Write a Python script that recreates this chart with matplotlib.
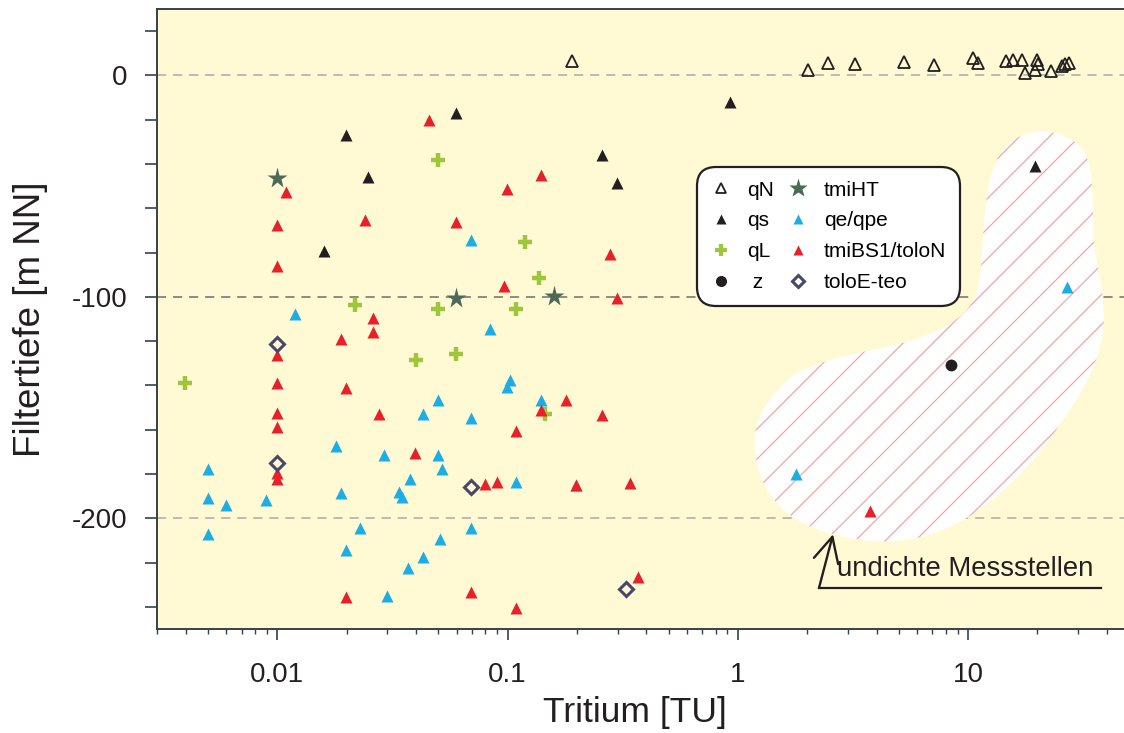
import numpy as np
import matplotlib
matplotlib.use("Agg")
import matplotlib.pyplot as plt
from matplotlib.path import Path
from matplotlib.patches import PathPatch
from matplotlib.collections import LineCollection
from matplotlib.lines import Line2D
from matplotlib.ticker import FixedLocator, FuncFormatter, LogLocator, NullFormatter

plt.rcParams['font.family'] = ['Liberation Sans', 'DejaVu Sans']

# --- data (Tritium [TU], Filtertiefe [m NN]) ---
qN_x = [0.19, 2.02, 2.46, 3.23, 5.28, 7.11, 10.5, 11.0, 14.6, 15.7, 17.1, 20.0,
        20.2, 17.7, 19.5, 22.8, 25.5, 26.4, 27.3]
qN_y = [6.3, 2.6, 5.7, 5.0, 6.0, 4.5, 8.0, 5.6, 6.4, 7.1, 7.1, 6.8,
        5.3, 1.0, 2.3, 1.9, 4.1, 5.0, 5.6]

qs_x = [0.0595, 0.0199, 0.257, 0.299, 0.0248, 0.0159, 0.927, 19.5]
qs_y = [-16.8, -26.7, -35.9, -48.5, -45.8, -79.3, -12.0, -40.8]

qL_x = [0.0498, 0.119, 0.137, 0.0218, 0.0498, 0.109, 0.0398, 0.0595, 0.00398, 0.145]
qL_y = [-38.3, -75.1, -91.7, -103.9, -105.5, -105.5, -128.4, -125.7, -138.9, -152.8]

z_x = [8.45]
z_y = [-130.6]

tmiHT_x = [0.01, 0.0595, 0.159]
tmiHT_y = [-46.2, -100.3, -99.4]

qe_x = [0.0695, 0.0119, 0.0836, 0.102, 0.0993, 0.139, 0.0498, 0.0428, 0.0695,
        0.018, 0.0289, 0.0496, 0.0518, 0.00498, 0.0377, 0.0336, 0.0347, 0.0188,
        0.005, 0.00598, 0.00893, 0.109, 0.199, 0.005, 0.0229, 0.0695, 0.0199,
        0.0506, 0.0428, 0.0369, 0.0299, 1.79, 26.9]
qe_y = [-74.3, -107.7, -114.4, -137.4, -140.7, -146.4, -146.8, -152.7, -154.6,
        -167.4, -171.5, -171.3, -177.9, -177.9, -182.1, -188.0, -190.4, -188.4,
        -190.7, -194.0, -191.9, -183.5, -185.1, -207.2, -204.6, -204.6, -214.3,
        -209.2, -217.4, -222.5, -235.3, -180.2, -95.6]

tmiBS1_x = [0.0457, 0.0109, 0.0993, 0.139, 0.01, 0.0239, 0.0595, 0.279, 0.01,
            0.0964, 0.299, 0.0259, 0.0259, 0.0188, 0.01, 0.01, 0.0199, 0.139,
            0.179, 0.257, 0.01, 0.0277, 0.01, 0.109, 0.0397, 0.01, 0.01, 0.08,
            0.0896, 0.199, 0.339, 0.0199, 0.0695, 0.109, 0.369, 3.75]
tmiBS1_y = [-20.3, -52.5, -51.4, -44.9, -67.7, -65.5, -66.2, -80.6, -86.2,
            -94.9, -100.3, -109.6, -115.9, -119.0, -126.1, -138.9, -141.1, -150.9,
            -146.4, -153.2, -152.4, -152.7, -158.7, -160.7, -170.7, -179.4, -182.4, -184.4,
            -183.5, -185.1, -183.9, -235.7, -233.5, -240.5, -226.4, -196.7]

toloE_x = [0.01, 0.01, 0.0695, 0.328]
toloE_y = [-121.2, -175.1, -185.7, -232.0]

# outline of the "undichte Messstellen" area (log10 TU, m NN)
blob_logx = [1.291, 1.400, 1.487, 1.530, 1.543, 1.543, 1.574, 1.591, 1.587, 1.552,
             1.487, 1.400, 1.313, 1.204, 1.065, 0.878, 0.704, 0.517, 0.326, 0.183,
             0.096, 0.065, 0.096, 0.183, 0.270, 0.430, 0.587, 0.778, 0.922, 1.009,
             1.052, 1.065, 1.083, 1.117, 1.183]
blob_y = [-24.8, -26.1, -31.5, -39.6, -56.3, -74.3, -92.3, -105.9, -116.2, -130.6,
          -144.1, -157.7, -170.3, -182.4, -195.9, -206.3, -210.8, -209.9, -205.0, -195.9,
          -182.4, -165.8, -152.3, -140.5, -132.9, -127.5, -123.9, -119.4, -112.6, -105.0,
          -94.6, -71.2, -51.8, -38.3, -29.3]

BG = '#fff9d4'
RED = '#e8202a'
BLUE = '#1aaee5'
GREEN = '#9dc63d'
STAR = '#4b6b58'
DIAM = '#4a4868'
BLACK = '#231f20'
SPINE = '#33414d'


def chaikin(pts, n=3):
    for _ in range(n):
        q = 0.75 * pts + 0.25 * np.roll(pts, -1, axis=0)
        r = 0.25 * pts + 0.75 * np.roll(pts, -1, axis=0)
        pts = np.empty((2 * len(q), 2))
        pts[0::2] = q
        pts[1::2] = r
    return pts


fig = plt.figure(figsize=(11.24, 7.33), dpi=100)
ax = fig.add_axes([0.1397, 0.1419, 0.8648, 0.8458])
ax.set_facecolor(BG)
ax.set_xscale('log')
ax.set_xlim(0.003, 50)
ax.set_ylim(-250, 30)

for yv, c in [(0, '#aaaaaa'), (-100, '#6e6e6e'), (-200, '#aaaaaa')]:
    ax.axhline(yv, color=c, lw=1.1, ls=(0, (6, 4.5)), zorder=1)

# blob with hand-drawn style hatch
outline = chaikin(np.column_stack([blob_logx, blob_y]), 3)
outline = np.column_stack([10 ** outline[:, 0], outline[:, 1]])
blob = PathPatch(Path(np.vstack([outline, outline[:1]]), closed=True),
                 facecolor='white', edgecolor='none', zorder=2)
ax.add_patch(blob)
W, H = 972.0, 620.0
segs = []
for c in np.arange(-H, W, 30):
    segs.append([(c / W, 0), ((c + H) / W, 1)])
hatch = LineCollection(segs, colors='#f5a3a3', linewidths=0.9,
                       transform=ax.transAxes, zorder=2.1)
hatch.set_clip_path(blob)
ax.add_collection(hatch)

ms = 8.8
ax.plot(qN_x, qN_y, ls='none', marker='^', ms=ms, mfc='none', mec=BLACK, mew=1.3, zorder=3)
ax.plot(qs_x, qs_y, ls='none', marker='^', ms=ms, mfc=BLACK, mec='none', zorder=3)
ax.plot(qL_x, qL_y, ls='none', marker='+', ms=10, mec=GREEN, mew=3.2, zorder=3)
ax.plot(z_x, z_y, ls='none', marker='o', ms=8.5, mfc=BLACK, mec='none', zorder=3)
ax.plot(qe_x, qe_y, ls='none', marker='^', ms=ms, mfc=BLUE, mec='none', zorder=3)
ax.plot(tmiBS1_x, tmiBS1_y, ls='none', marker='^', ms=ms, mfc=RED, mec='none', zorder=3)
ax.plot(tmiHT_x, tmiHT_y, ls='none', marker='*', ms=15.5, mfc=STAR, mec='none', zorder=3)
ax.plot(toloE_x, toloE_y, ls='none', marker='D', ms=7, mfc='none', mec=DIAM, mew=2.2, zorder=3)

# axes styling
for s in ax.spines.values():
    s.set_color(SPINE)
    s.set_linewidth(1.4)
ax.yaxis.set_major_locator(FixedLocator(np.arange(-240, 21, 20)))
ax.yaxis.set_major_formatter(FuncFormatter(lambda v, p: '%d' % v if v % 100 == 0 else ''))
ax.xaxis.set_major_locator(LogLocator(base=10, numticks=10))
ax.xaxis.set_minor_locator(LogLocator(base=10, subs=np.arange(2, 10), numticks=10))
ax.xaxis.set_minor_formatter(NullFormatter())
ax.xaxis.set_major_formatter(FuncFormatter(lambda v, p: '%g' % v))
ax.tick_params(axis='y', which='major', direction='out', length=8.6, width=1.2,
               color=SPINE, labelsize=20, labelcolor=BLACK, pad=13)
ax.tick_params(axis='x', which='major', direction='out', length=8, width=1.2,
               color=SPINE, labelsize=20, labelcolor=BLACK, pad=16)
ax.tick_params(axis='x', which='minor', direction='out', length=3.5, width=1.0, color=SPINE)

ax.set_xlabel('Tritium [TU]', fontsize=25.5, color=BLACK, va='top')
ax.xaxis.set_label_coords(0.4918, -0.108)
ax.set_ylabel('Filtertiefe [m NN]', fontsize=26.5, color=BLACK)
ax.yaxis.set_label_coords(-0.112, 0.5)

# annotation
ax.annotate('', xy=(2.59, -207.2), xytext=(2.25, -231.5),
            arrowprops=dict(arrowstyle='->,head_length=0.9,head_width=0.45',
                            lw=1.7, color=BLACK, mutation_scale=20, shrinkA=0, shrinkB=0),
            zorder=4)
ax.plot([2.25, 37.8], [-231.5, -231.5], color=BLACK, lw=1.6, zorder=4)
ax.text(2.69, -226.1, 'undichte Messstellen', fontsize=19.8, color=BLACK,
        va='baseline', ha='left', zorder=4)

# legend
handles = [
    Line2D([], [], ls='none', marker='^', ms=7, mfc='none', mec=BLACK, mew=1.3),
    Line2D([], [], ls='none', marker='^', ms=7, mfc=BLACK, mec='none'),
    Line2D([], [], ls='none', marker='+', ms=8, mec=GREEN, mew=3),
    Line2D([], [], ls='none', marker='o', ms=8, mfc=BLACK, mec='none'),
    Line2D([], [], ls='none', marker='*', ms=14, mfc=STAR, mec='none'),
    Line2D([], [], ls='none', marker='^', ms=7, mfc=BLUE, mec='none'),
    Line2D([], [], ls='none', marker='^', ms=7, mfc=RED, mec='none'),
    Line2D([], [], ls='none', marker='D', ms=6, mfc='none', mec=DIAM, mew=2.2),
]
labels = ['qN', 'qs', 'qL', ' z', 'tmiHT', 'qe/qpe', 'tmiBS1/toloN', 'toloE-teo']
leg = ax.legend(handles, labels, ncol=2, loc='upper left',
                bbox_to_anchor=(697 / 1124, 1 - 167 / 733), bbox_transform=fig.transFigure,
                borderaxespad=0, fontsize=15, frameon=True, fancybox=True,
                handlelength=1.0, handletextpad=0.75, columnspacing=0.65,
                labelspacing=0.57, borderpad=0.65)
leg.set_zorder(5)
fr = leg.get_frame()
fr.set_facecolor('white')
fr.set_edgecolor(BLACK)
fr.set_linewidth(1.6)
fr.set_alpha(1)
fr.set_boxstyle('round,pad=0,rounding_size=0.9')

fig.savefig('out.png', dpi=100, facecolor='white')
